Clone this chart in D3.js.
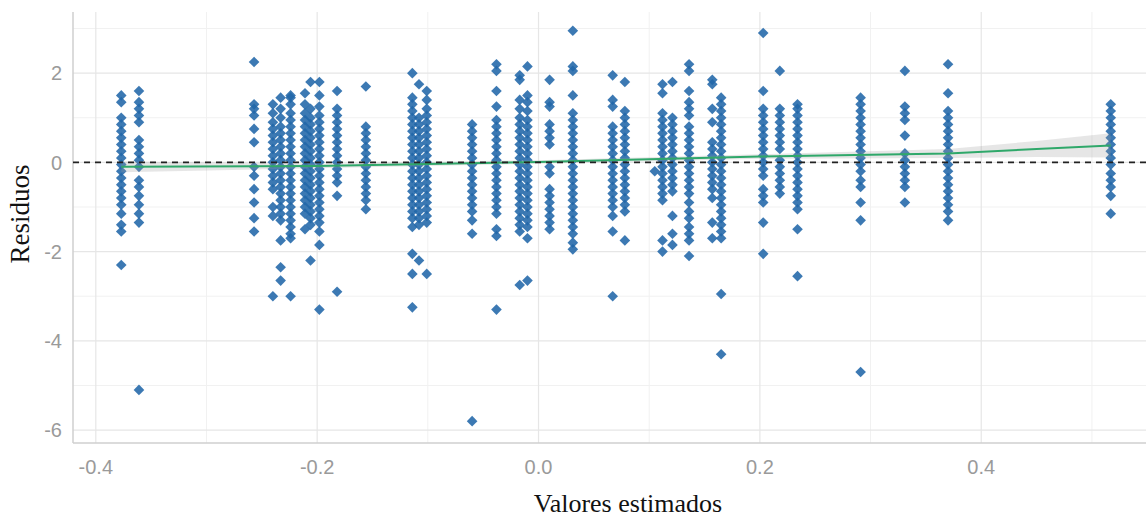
<!DOCTYPE html>
<html>
<head>
<meta charset="utf-8">
<script src="https://cdn.jsdelivr.net/npm/d3@7"></script>
<style>
  html, body { margin: 0; padding: 0; background: #ffffff; }
  svg { display: block; }
</style>
</head>
<body>
<svg id="chart" width="1146" height="520"></svg>
<script>
// ---- Data ----
const fittedValues = [
  -0.377, -0.361, -0.257, -0.240, -0.233, -0.224, -0.211, -0.206, -0.198,
  -0.182, -0.156, -0.114, -0.108, -0.101, -0.060, -0.038, -0.017, -0.010,
   0.010,  0.031,  0.067,  0.078,  0.105,  0.112,  0.121,  0.136,  0.157,
   0.165,  0.203,  0.218,  0.234,  0.291,  0.331,  0.370,  0.517
];
const residuals = [
  [1.5, 1.35, 1.0, 0.85, 0.7, 0.55, 0.4, 0.25, 0.1, -0.05, -0.2, -0.35, -0.5, -0.65, -0.8, -0.95, -1.15, -1.4, -1.55, -2.3],
  [1.6, 1.35, 1.2, 1.05, 0.9, 0.5, 0.35, 0.2, 0.05, -0.1, -0.4, -0.55, -0.75, -0.95, -1.15, -1.35, -5.1],
  [2.25, 1.3, 1.2, 1.05, 0.75, 0.45, -0.1, -0.3, -0.6, -0.9, -1.25, -1.55],
  [1.3, 1.1, 0.9, 0.75, 0.6, 0.45, 0.3, 0.15, 0.0, -0.15, -0.3, -0.45, -0.6, -1.0, -1.2, -3.0],
  [1.45, 1.2, 1.0, 0.8, 0.65, 0.5, 0.35, 0.2, 0.05, -0.1, -0.25, -0.4, -0.55, -0.7, -0.85, -1.0, -1.15, -1.3, -1.75, -2.35, -2.65],
  [1.5, 1.45, 1.3, 1.1, 0.95, 0.8, 0.65, 0.5, 0.35, 0.2, 0.05, -0.1, -0.25, -0.4, -0.55, -0.7, -0.85, -1.0, -1.15, -1.3, -1.45, -1.6, -1.7, -3.0],
  [1.55, 1.3, 1.1, 0.95, 0.8, 0.65, 0.5, 0.35, 0.2, 0.05, -0.1, -0.25, -0.4, -0.55, -0.7, -0.85, -1.0, -1.15, -1.5],
  [1.8, 1.2, 1.0, 0.85, 0.7, 0.55, 0.4, 0.25, 0.1, -0.05, -0.2, -0.35, -0.5, -0.65, -0.8, -0.95, -1.1, -1.25, -1.4, -2.2],
  [1.8, 1.5, 1.25, 1.05, 0.9, 0.75, 0.6, 0.45, 0.3, 0.15, 0.0, -0.15, -0.3, -0.45, -0.6, -0.75, -0.9, -1.05, -1.2, -1.35, -1.55, -1.85, -3.3],
  [1.6, 1.2, 1.05, 0.9, 0.75, 0.6, 0.45, 0.3, 0.15, 0.0, -0.15, -0.3, -0.45, -0.75, -2.9],
  [1.7, 0.8, 0.65, 0.5, 0.35, 0.2, 0.05, -0.1, -0.25, -0.4, -0.55, -0.7, -0.85, -1.05],
  [2.0, 1.45, 1.3, 1.15, 1.0, 0.85, 0.7, 0.55, 0.4, 0.25, 0.1, -0.05, -0.2, -0.35, -0.5, -0.65, -0.8, -0.95, -1.1, -1.25, -1.45, -2.05, -2.5, -3.25],
  [1.75, 1.0, 0.85, 0.7, 0.55, 0.4, 0.25, 0.1, -0.05, -0.2, -0.35, -0.5, -0.65, -0.8, -0.95, -1.1, -1.25, -1.4, -2.2],
  [1.6, 1.4, 1.2, 1.05, 0.9, 0.75, 0.6, 0.45, 0.3, 0.15, 0.0, -0.15, -0.3, -0.45, -0.6, -0.75, -0.9, -1.05, -1.2, -1.35, -2.5],
  [0.85, 0.7, 0.55, 0.4, 0.25, 0.1, -0.05, -0.2, -0.35, -0.5, -0.65, -0.8, -0.95, -1.1, -1.3, -1.6, -5.8],
  [2.2, 2.05, 1.6, 1.25, 0.95, 0.8, 0.65, 0.5, 0.35, 0.2, 0.05, -0.1, -0.25, -0.4, -0.55, -0.7, -0.85, -1.0, -1.15, -1.5, -1.65, -3.3],
  [1.95, 1.85, 1.4, 1.2, 1.0, 0.85, 0.7, 0.55, 0.4, 0.25, 0.1, -0.05, -0.2, -0.35, -0.5, -0.65, -0.8, -0.95, -1.1, -1.25, -1.4, -1.55, -2.75],
  [2.15, 1.5, 1.35, 1.15, 0.95, 0.8, 0.65, 0.5, 0.35, 0.2, 0.05, -0.1, -0.25, -0.4, -0.55, -0.7, -0.85, -1.0, -1.15, -1.3, -1.45, -1.7, -2.65],
  [1.85, 1.35, 1.25, 0.85, 0.7, 0.55, 0.4, -0.1, -0.25, -0.6, -0.75, -0.9, -1.05, -1.2, -1.35, -1.5],
  [2.95, 2.15, 2.05, 1.5, 1.1, 0.95, 0.8, 0.65, 0.5, 0.35, 0.2, 0.05, -0.1, -0.25, -0.4, -0.55, -0.7, -0.85, -1.0, -1.15, -1.3, -1.45, -1.6, -1.8, -1.95],
  [1.95, 1.4, 1.25, 0.8, 0.65, 0.5, 0.35, 0.2, 0.05, -0.1, -0.25, -0.4, -0.55, -0.7, -0.85, -1.0, -1.2, -1.55, -3.0],
  [1.8, 1.15, 1.0, 0.85, 0.7, 0.55, 0.4, 0.25, 0.1, -0.05, -0.2, -0.35, -0.5, -0.65, -0.8, -0.95, -1.1, -1.75],
  [-0.2],
  [1.75, 1.55, 1.1, 0.95, 0.8, 0.65, 0.5, 0.35, 0.2, 0.05, -0.1, -0.25, -0.4, -0.55, -0.7, -0.85, -1.75, -2.0],
  [1.8, 1.0, 0.85, 0.7, 0.55, 0.4, 0.25, 0.1, -0.05, -0.2, -0.35, -0.5, -0.65, -1.2, -1.6, -1.85],
  [2.2, 2.05, 1.6, 1.35, 1.2, 1.05, 0.8, 0.65, 0.5, 0.35, 0.2, 0.05, -0.1, -0.25, -0.4, -0.55, -0.7, -0.9, -1.1, -1.25, -1.45, -1.6, -1.75, -2.1],
  [1.85, 1.75, 1.2, 0.9, 0.45, 0.3, 0.15, 0.0, -0.15, -0.3, -0.45, -0.6, -0.8, -1.35, -1.7],
  [1.45, 1.3, 1.15, 1.0, 0.85, 0.7, 0.55, 0.4, 0.25, 0.1, -0.05, -0.2, -0.35, -0.5, -0.65, -0.8, -0.95, -1.1, -1.25, -1.4, -1.55, -1.7, -2.95, -4.3],
  [2.9, 1.6, 1.2, 1.05, 0.9, 0.75, 0.6, 0.45, 0.3, 0.15, 0.0, -0.15, -0.3, -0.6, -0.75, -0.9, -1.35, -2.05],
  [2.05, 1.2, 1.05, 0.9, 0.75, 0.6, 0.45, 0.3, 0.05, -0.1, -0.25, -0.4, -0.55, -0.7],
  [1.3, 1.2, 1.05, 0.9, 0.75, 0.6, 0.45, 0.3, 0.15, 0.0, -0.15, -0.3, -0.45, -0.6, -0.75, -0.9, -1.05, -1.5, -2.55],
  [1.45, 1.3, 1.15, 1.0, 0.85, 0.7, 0.55, 0.4, 0.25, 0.1, -0.05, -0.2, -0.4, -0.55, -0.9, -1.3, -4.7],
  [2.05, 1.25, 1.1, 0.95, 0.6, 0.2, 0.05, -0.1, -0.25, -0.4, -0.55, -0.9],
  [2.2, 1.55, 1.15, 1.0, 0.85, 0.7, 0.55, 0.4, 0.25, 0.1, -0.05, -0.2, -0.35, -0.5, -0.65, -0.8, -0.95, -1.1, -1.3],
  [1.3, 1.15, 1.0, 0.85, 0.7, 0.55, 0.4, 0.25, 0.1, -0.05, -0.25, -0.4, -0.55, -0.75, -1.15]
];
// smoother (trend of residuals) and its confidence half-width
const smoothX  = [-0.377, -0.2, 0.0, 0.2, 0.37, 0.45, 0.517];
const smoothY  = [-0.10, -0.08, 0.01, 0.13, 0.20, 0.30, 0.38];
const smoothSE = [0.12, 0.05, 0.04, 0.05, 0.10, 0.18, 0.27];

const xMajorTicks = [-0.4, -0.2, 0.0, 0.2, 0.4];
const xMinorTicks = [-0.3, -0.1, 0.1, 0.3, 0.5];
const yMajorTicks = [-6, -4, -2, 0, 2];
const yMinorTicks = [-5, -3, -1, 1, 3];
const xTitle = "Valores estimados";
const yTitle = "Residuos";

// ---- Layout ----
const W = 1146, H = 520;
const pLeft = 73, pTop = 12, pBottom = 443, pRight = 1159;

const svg = d3.select("#chart");
const x = d3.scaleLinear().domain([-0.4206, 0.5606]).range([pLeft, pRight]);
const y = d3.scaleLinear().domain([-6.29, 3.37]).range([pBottom, pTop]);

const points = [];
fittedValues.forEach((fx, i) => residuals[i].forEach(r => points.push({fx, r})));

const defs = svg.append("defs");
defs.append("clipPath").attr("id", "panel")
  .append("rect").attr("x", pLeft).attr("y", pTop)
  .attr("width", W - pLeft).attr("height", pBottom - pTop);

// grid
const grid = svg.append("g");
grid.selectAll(".ymin").data(yMinorTicks).join("line")
  .attr("x1", pLeft).attr("x2", W).attr("y1", d => y(d)).attr("y2", d => y(d))
  .attr("stroke", "#f1f1f1").attr("stroke-width", 1);
grid.selectAll(".xmin").data(xMinorTicks).join("line")
  .attr("y1", pTop).attr("y2", pBottom).attr("x1", d => x(d)).attr("x2", d => x(d))
  .attr("stroke", "#f1f1f1").attr("stroke-width", 1);
grid.selectAll(".ymaj").data(yMajorTicks).join("line")
  .attr("x1", pLeft).attr("x2", W).attr("y1", d => y(d)).attr("y2", d => y(d))
  .attr("stroke", "#e6e6e6").attr("stroke-width", 1.2);
grid.selectAll(".xmaj").data(xMajorTicks).join("line")
  .attr("y1", pTop).attr("y2", pBottom).attr("x1", d => x(d)).attr("x2", d => x(d))
  .attr("stroke", "#e6e6e6").attr("stroke-width", 1.2);

// axis lines
svg.append("line").attr("x1", pLeft).attr("x2", pLeft).attr("y1", pTop).attr("y2", pBottom)
  .attr("stroke", "#cfcfcf").attr("stroke-width", 1.5);
svg.append("line").attr("x1", pLeft).attr("x2", W).attr("y1", pBottom).attr("y2", pBottom)
  .attr("stroke", "#cfcfcf").attr("stroke-width", 1.5);

const panel = svg.append("g").attr("clip-path", "url(#panel)");

// points
const diamond = d3.symbol().type(d3.symbolDiamond2 || d3.symbolDiamond).size(72);
panel.append("g").selectAll("path").data(points).join("path")
  .attr("d", diamond)
  .attr("transform", d => `translate(${x(d.fx)},${y(d.r)})`)
  .attr("fill", "#2166a8").attr("fill-opacity", 0.88);

// smoother ribbon + line
const sm = smoothX.map((v, i) => ({x: v, y: smoothY[i], se: smoothSE[i]}));
panel.append("path").datum(sm)
  .attr("d", d3.area().x(d => x(d.x)).y0(d => y(d.y - d.se)).y1(d => y(d.y + d.se)))
  .attr("fill", "#9a9a9a").attr("fill-opacity", 0.25);
panel.append("path").datum(sm)
  .attr("d", d3.line().x(d => x(d.x)).y(d => y(d.y)))
  .attr("fill", "none").attr("stroke", "#2fa86a").attr("stroke-width", 2);

// zero reference line
panel.append("line").attr("x1", pLeft).attr("x2", W).attr("y1", y(0)).attr("y2", y(0))
  .attr("stroke", "#222").attr("stroke-width", 1.6).attr("stroke-dasharray", "6,5");

// tick labels
const tickFont = "'Liberation Sans', Arial, sans-serif";
const fmtX = d => d3.format(".1f")(d).replace("\u2212", "-");
svg.append("g").selectAll("text").data(xMajorTicks).join("text")
  .attr("x", d => x(d)).attr("y", 474)
  .attr("text-anchor", "middle")
  .attr("font-family", tickFont).attr("font-size", 20).attr("fill", "#9a9a9a")
  .text(fmtX);
svg.append("g").selectAll("text").data(yMajorTicks).join("text")
  .attr("x", 62).attr("y", d => y(d)).attr("dy", "0.36em")
  .attr("text-anchor", "end")
  .attr("font-family", tickFont).attr("font-size", 20).attr("fill", "#9a9a9a")
  .text(d => String(d));

// axis titles
const titleFont = "'Liberation Serif', 'Times New Roman', serif";
svg.append("text").attr("x", 628).attr("y", 512).attr("text-anchor", "middle")
  .attr("font-family", titleFont).attr("font-size", 26).attr("fill", "#111")
  .text(xTitle);
svg.append("text").attr("transform", "translate(29,214) rotate(-90)")
  .attr("text-anchor", "middle")
  .attr("font-family", titleFont).attr("font-size", 27).attr("fill", "#111")
  .text(yTitle);
</script>
</body>
</html>
